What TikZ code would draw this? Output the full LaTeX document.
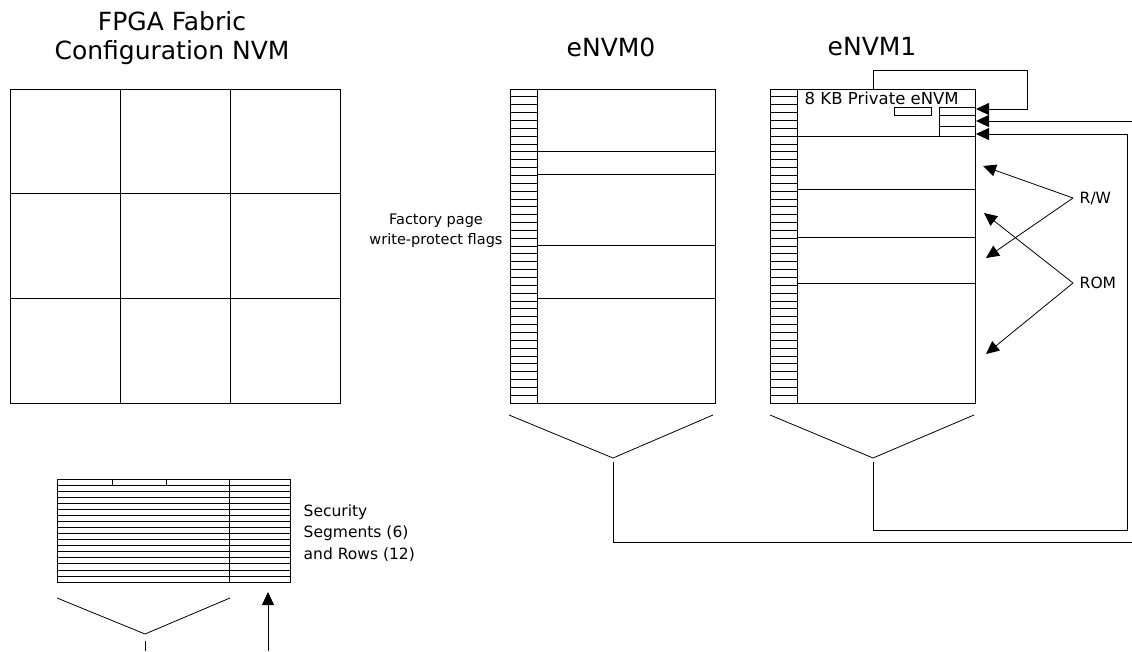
\documentclass[tikz,border=0pt]{standalone}
\usepackage{fontspec}
\setmainfont{DejaVu Sans}
\usetikzlibrary{arrows.meta,calc}

\begin{document}
\begin{tikzpicture}[
    x=1pt, y=-1pt, line width=0.8pt,
    >={Triangle[length=13pt,width=12pt]},
    title/.style={font=\fontsize{25}{29}\selectfont, align=center},
    lbl/.style={font=\fontsize{15.5}{21.5}\selectfont, align=left}
]
    \useasboundingbox (0,0) rectangle (1132,651);

    % FPGA fabric
    \node[title] (fabtitle) at (172,38) {FPGA Fabric\\Configuration NVM};
    \draw (10,89) rectangle (340,403);
    \foreach \x in {120,230} \draw (\x,89) -- (\x,403);
    \foreach \y in {193.7,298.3} \draw (10,\y) -- (340,\y);

    % Security segments
    \draw (57,479) rectangle (290,582);
    \foreach \i in {1,...,16} \draw (57,{479+\i*6.06}) -- (290,{479+\i*6.06});
    \draw (229,479) -- (229,582);
    \foreach \x in {112,166} \draw (\x,479) -- (\x,485);
    \node[lbl, anchor=west] (seclbl) at (300,533) {Security\\Segments (6)\\and Rows (12)};
    \draw (57,598) -- (145,634) -- (230,598);
    \coordinate (secstem) at (145,641);
    \coordinate (secfoot) at (145,651);
    \draw (secstem) -- (secfoot);
    \coordinate (secin) at (268,651);
    \coordinate (secout) at (268,592);
    \draw[->] (secin) -- (secout);

    % eNVM0
    \node[title] (nvm0title) at (611,47) {eNVM0};
    \draw (510,89) rectangle (715,403);
    \draw (537,89) -- (537,403);
    \foreach \i in {1,...,39} \draw (510,{89+\i*7.85}) -- (537,{89+\i*7.85});
    \foreach \y in {151,174,245,298} \draw (537,\y) -- (715,\y);
    \node[font=\fontsize{14.5}{20}\selectfont, align=center] (flaglbl) at (436,231) {Factory page\\write-protect flags};
    \draw (509,415) -- (613,458) -- (713,415);

    % eNVM1
    \node[title] (nvm1title) at (872,47) {eNVM1};
    \draw (770,89) rectangle (975,403);
    \draw (797,89) -- (797,403);
    \foreach \i in {1,...,39} \draw (770,{89+\i*7.85}) -- (797,{89+\i*7.85});
    \foreach \y in {136,189,237,283} \draw (797,\y) -- (975,\y);
    \node[lbl, font=\fontsize{16.5}{20}\selectfont, anchor=west] (privlbl) at (801,98) {8 KB Private eNVM};
    \draw (894,107) rectangle (931,115);
    \draw (939,107) rectangle (975,136);
    \foreach \y in {115,126} \draw (939,\y) -- (975,\y);
    \draw (770,415) -- (873,458) -- (974,415);

    % connectors into the private block
    \coordinate (top1) at (873,89);
    \coordinate (loop) at (1027,70);
    \coordinate (in1) at (976,109);
    \draw[->] (top1) |- (loop) |- (in1);

    \coordinate (stem0) at (613,462);
    \coordinate (turn0) at (1134,542);
    \coordinate (in2) at (976,121);
    \draw[->] (stem0) |- (turn0) |- (in2);

    \coordinate (stem1) at (873,462);
    \coordinate (turn1) at (1127,530);
    \coordinate (in3) at (976,134);
    \draw[->] (stem1) |- (turn1) |- (in3);

    % R/W and ROM
    \node[lbl, anchor=west] (rw) at (1076,199) {R/W};
    \node[lbl, anchor=west] (rom) at (1076,283) {ROM};
    \coordinate (rwv) at (1073,198);
    \coordinate (romv) at (1073,283);
    \draw[->] (rwv) -- (983,166);
    \draw[->] (rwv) -- (986,258);
    \draw[->] (romv) -- (984,213);
    \draw[->] (romv) -- (986,354);
\end{tikzpicture}
\end{document}
